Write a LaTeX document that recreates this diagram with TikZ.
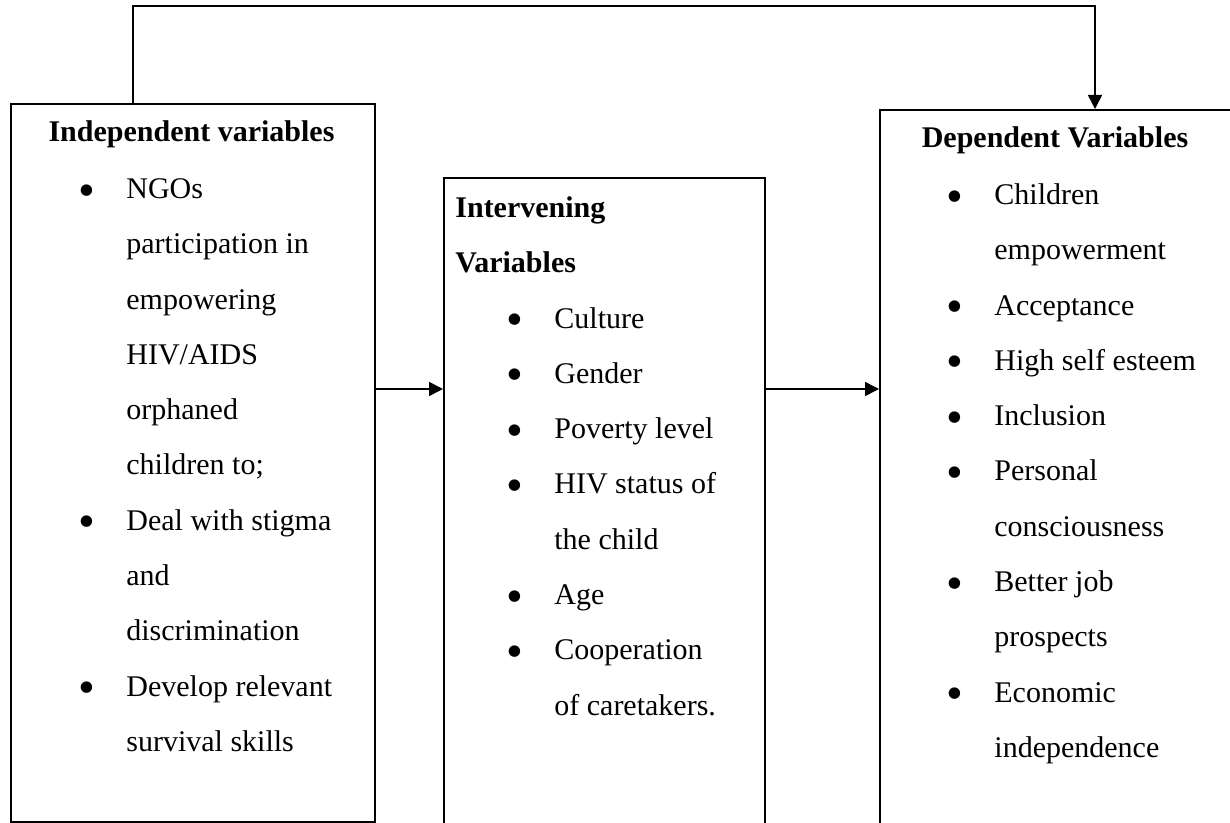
\documentclass[tikz,border=0pt]{standalone}
\usepackage{fontspec}
\usepackage{graphicx}
\setmainfont{Liberation Serif}
\usetikzlibrary{arrows.meta,calc,positioning}
\newlength{\bulletgap}
\setlength{\bulletgap}{22.5pt}
\newcommand{\bitem}{\makebox[\bulletgap][l]{\hspace*{-1.5pt}\raisebox{-3.8pt}{\scalebox{1.6}{\textbullet}}}}
\newcommand{\bcont}{\hspace*{\bulletgap}}
\tikzset{
  varbox/.style={draw=black,line width=.8pt,anchor=north west,inner sep=0pt},
  boxtitle/.style={font=\fontsize{15}{27.65}\selectfont\bfseries,inner sep=0pt,anchor=base},
  boxhead/.style={font=\fontsize{15}{27.65}\selectfont\bfseries,align=left,inner sep=0pt,anchor=north west},
  itemlist/.style={font=\fontsize{15}{27.65}\selectfont,align=left,inner sep=0pt,anchor=north west},
  flow/.style={-{Triangle[length=7pt,width=7pt]},draw=black,line width=.8pt}
}
\begin{document}
\begin{tikzpicture}[x=.5pt,y=-.5pt]
  \useasboundingbox (0,0) rectangle (1230,823);
  % the three boxes
  \node[varbox,minimum width=182pt,minimum height=359pt] (indep) at (10,103) {};
  \node[varbox,minimum width=160.5pt,minimum height=335pt] (interv) at (443,177) {};
  \node[varbox,minimum width=190pt,minimum height=370pt] (dep) at (879,109) {};
  % box texts
  \node[boxtitle] (indeptitle) at (191.5,142) {Independent variables};
  \node[itemlist] (indepitems) at (81,159.3) {\strut\bitem NGOs\\
    \bcont participation in\\ \bcont empowering\\ \bcont HIV/AIDS\\
    \bcont orphaned\\ \bcont children to;\\
    \bitem Deal with stigma\\ \bcont and\\ \bcont discrimination\\
    \bitem Develop relevant\\ \bcont survival skills};
  \node[boxhead] (intervtitle) at (455,178.3) {\strut Intervening\\ Variables};
  \node[itemlist] (intervitems) at (509,288.9) {\strut\bitem Culture\\
    \bitem Gender\\ \bitem Poverty level\\ \bitem HIV status of\\
    \bcont the child\\ \bitem Age\\ \bitem Cooperation\\ \bcont of caretakers.};
  \node[boxtitle] (deptitle) at (1055,148) {Dependent Variables};
  \node[itemlist] (depitems) at (949,165.3) {\strut\bitem Children\\
    \bcont empowerment\\ \bitem Acceptance\\ \bitem High self esteem\\
    \bitem Inclusion\\ \bitem Personal\\ \bcont consciousness\\
    \bitem Better job\\ \bcont prospects\\ \bitem Economic\\ \bcont independence};
  % connectors
  \coordinate (turnL) at (133,6);
  \coordinate (turnR) at (1095,6);
  \coordinate (arrowrow) at (0,389);
  \draw[flow] (indep.north -| turnL) -- (turnL) -- (turnR) -- (dep.north -| turnR);
  \draw[flow] (indep.east |- arrowrow) -- (interv.west |- arrowrow);
  \draw[flow] (interv.east |- arrowrow) -- (dep.west |- arrowrow);
\end{tikzpicture}
\end{document}
